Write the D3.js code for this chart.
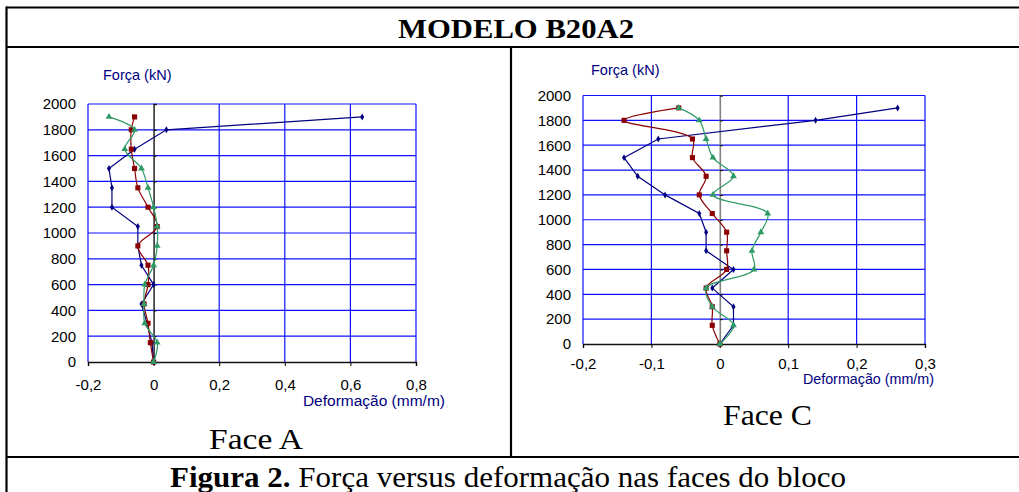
<!DOCTYPE html>
<html>
<head>
<meta charset="utf-8">
<script src="https://cdn.jsdelivr.net/npm/d3@7"></script>
<style>
	body { margin: 0; background: #fff; }
	svg { display: block; }
	.sans { font-family: "Liberation Sans", Arial, sans-serif; }
	.serif { font-family: "Liberation Serif", "Times New Roman", serif; }
</style>
</head>
<body>
<div id="fig"></div>
<script>

// load steps (kN), shared by all series
const forces = [ 0, 150, 300, 450, 600, 750, 900, 1050, 1200, 1350, 1500, 1650, 1800, 1900 ];

// Face A strains (mm/m)
const blueA  = [ 0, -0.005, -0.02, -0.037, 0, -0.037, -0.048, -0.048, -0.127, -0.127, -0.136, -0.058, 0.039, 0.636 ];
const redA   = [ 0, -0.01, -0.017, -0.029, -0.017, -0.017, -0.048, 0.011, -0.017, -0.048, -0.058, -0.068, -0.068, -0.058 ];
const greenA = [ 0, 0.011, -0.027, -0.029, -0.027, 0, 0.011, 0.011, 0, -0.017, -0.037, -0.088, -0.058, -0.136 ];

// Face C strains (mm/m)
const blueC  = [ 0, 0.02, 0.02, -0.011, 0.02, -0.02, -0.02, -0.03, -0.08, -0.12, -0.14, -0.09, 0.14, 0.26 ];
const redC   = [ 0, -0.011, -0.011, -0.02, 0.01, 0.01, 0.01, -0.011, -0.03, -0.02, -0.04, -0.04, -0.14, -0.06 ];
const greenC = [ 0, 0.02, -0.011, -0.02, 0.05, 0.047, 0.06, 0.07, -0.01, 0.02, -0.01, -0.02, -0.03, -0.06 ];

const yTicks  = [ 0, 200, 400, 600, 800, 1000, 1200, 1400, 1600, 1800, 2000 ];
const xTicksA = [ -0.2, 0, 0.2, 0.4, 0.6, 0.8 ];
const xTicksC = [ -0.2, -0.1, 0, 0.1, 0.2, 0.3 ];

///////////////////////////////////////////////////////////////////////

const W = 1019, H = 492;
const NAVY = "#000080", RED = "#8b0000", GREEN = "#2e9a66", GRID = "#1010ff";

const svg = d3.select( "#fig" )
	.append( "svg" )
		.attr( "width", W )
		.attr( "height", H );

// excel style labels: hyphen minus, comma decimal, no grouping
const comma = d => String( +d.toFixed( 3 ) ).replace( ".", "," );

draw_frame();

draw_chart( {
	left: 88, right: 416, top: 104, bottom: 362,
	xDomain: [ -0.2, 0.8 ], xTicks: xTicksA,
	series: [ blueA, redA, greenA ],
	zeroColor: "#333",
	yTitle: { x: 103, y: 80 },
	xTitle: { x: 445, y: 406, size: 15.5 },
	tickBaseline: 28
} );

draw_chart( {
	left: 583, right: 925, top: 95.5, bottom: 344,
	xDomain: [ -0.2, 0.3 ], xTicks: xTicksC,
	series: [ blueC, redC, greenC ],
	zeroColor: "#808080",
	yTitle: { x: 591, y: 75 },
	xTitle: { x: 934, y: 384, size: 14.3 },
	tickBaseline: 25
} );

function draw_frame()	{

	let g = svg.append( "g" )
		.attr( "stroke", "#000" )
		.attr( "stroke-width", 2.2 );

	g.append( "line" ).attr( "x1", 6.5 ).attr( "x2", W + 5 ).attr( "y1", 7.5 ).attr( "y2", 7.5 );
	g.append( "line" ).attr( "x1", 6.5 ).attr( "x2", W + 5 ).attr( "y1", 47 ).attr( "y2", 47 );
	g.append( "line" ).attr( "x1", 6.5 ).attr( "x2", W + 5 ).attr( "y1", 457 ).attr( "y2", 457 );
	g.append( "line" ).attr( "x1", 6.5 ).attr( "x2", 6.5 ).attr( "y1", 6.5 ).attr( "y2", H + 5 );
	g.append( "line" ).attr( "x1", 511 ).attr( "x2", 511 ).attr( "y1", 47 ).attr( "y2", 457 );

	svg.append( "text" )
		.attr( "class", "serif" )
		.attr( "x", 516 ).attr( "y", 38 )
		.attr( "text-anchor", "middle" )
		.attr( "font-weight", "bold" )
		.attr( "font-size", 27.5 )
		.attr( "textLength", 236 )
		.attr( "lengthAdjust", "spacingAndGlyphs" )
		.text( "MODELO B20A2" );

	svg.append( "text" )
		.attr( "class", "serif" )
		.attr( "x", 209 ).attr( "y", 449 )
		.attr( "font-size", 29 )
		.attr( "textLength", 94 )
		.attr( "lengthAdjust", "spacingAndGlyphs" )
		.text( "Face A" );

	svg.append( "text" )
		.attr( "class", "serif" )
		.attr( "x", 723 ).attr( "y", 425 )
		.attr( "font-size", 30 )
		.attr( "textLength", 89 )
		.attr( "lengthAdjust", "spacingAndGlyphs" )
		.text( "Face C" );

	let cap = svg.append( "text" )
		.attr( "class", "serif" )
		.attr( "x", 170 ).attr( "y", 487 )
		.attr( "font-size", 29 )
		.attr( "textLength", 676 )
		.attr( "lengthAdjust", "spacingAndGlyphs" );
	cap.append( "tspan" ).attr( "font-weight", "bold" ).text( "Figura 2." );
	cap.append( "tspan" ).text( " Força versus deformação nas faces do bloco" );
}

function draw_chart( c )	{

	let x = d3.scaleLinear().domain( c.xDomain ).range( [ c.left, c.right ] );
	let y = d3.scaleLinear().domain( [ 0, 2000 ] ).range( [ c.bottom, c.top ] );

	let g = svg.append( "g" );

	// grid + plot border
	g.append( "g" )
		.selectAll( "line" )
		.data( yTicks.filter( d => d > 0 ) )
		.join( "line" )
			.attr( "x1", c.left ).attr( "x2", c.right )
			.attr( "y1", d => y( d ) ).attr( "y2", d => y( d ) )
			.attr( "stroke", GRID ).attr( "stroke-width", 1.2 );

	g.append( "g" )
		.selectAll( "line" )
		.data( c.xTicks.filter( d => d !== 0 ) )
		.join( "line" )
			.attr( "x1", d => x( d ) ).attr( "x2", d => x( d ) )
			.attr( "y1", c.top ).attr( "y2", c.bottom )
			.attr( "stroke", GRID ).attr( "stroke-width", 1.2 );

	// y tick labels on the left
	g.append( "g" )
		.attr( "transform", `translate(${ c.left },0)` )
		.call( d3.axisLeft( y ).tickValues( yTicks ).tickSize( 0 ).tickPadding( 12 ).tickFormat( comma ) )
		.call( a => a.select( ".domain" ).remove() )
		.call( a => a.attr( "font-family", null ).attr( "font-size", null ) )
		.call( a => a.selectAll( "text" )
			.attr( "class", "sans" )
			.attr( "font-size", 15 )
			.attr( "fill", "#000" ) );

	// vertical axis crossing at zero
	let z = g.append( "g" ).attr( "transform", `translate(${ x( 0 ) },0)` );
	z.call( d3.axisLeft( y ).tickValues( yTicks ).tickSize( 3 ).tickFormat( "" ) );
	z.call( d3.axisRight( y ).tickValues( yTicks ).tickSize( 3 ).tickFormat( "" ) );
	z.selectAll( ".domain" ).attr( "stroke", c.zeroColor ).attr( "stroke-width", 1.6 );
	z.selectAll( ".tick line" ).attr( "stroke", "#000" );

	// bottom axis
	g.append( "g" )
		.attr( "transform", `translate(0,${ c.bottom })` )
		.call( d3.axisBottom( x ).tickValues( c.xTicks ).tickSize( 4 ).tickFormat( comma ).tickSizeOuter( 4 ) )
		.call( a => a.attr( "font-family", null ).attr( "font-size", null ) )
		.call( a => a.select( ".domain" ).attr( "stroke", "#111" ).attr( "stroke-width", 1.4 ) )
		.call( a => a.selectAll( "text" )
			.attr( "class", "sans" )
			.attr( "font-size", 15 )
			.attr( "fill", "#000" )
			.attr( "dy", null )
			.attr( "y", c.tickBaseline ) );

	// axis titles
	g.append( "text" )
		.attr( "class", "sans" )
		.attr( "x", c.yTitle.x ).attr( "y", c.yTitle.y )
		.attr( "font-size", 14.5 )
		.attr( "fill", NAVY )
		.text( "Força (kN)" );

	g.append( "text" )
		.attr( "class", "sans" )
		.attr( "x", c.xTitle.x ).attr( "y", c.xTitle.y )
		.attr( "text-anchor", "end" )
		.attr( "font-size", c.xTitle.size )
		.attr( "fill", NAVY )
		.text( "Deformação (mm/m)" );

	// series
	let styles = [
		{ color: NAVY,  curve: d3.curveLinear,     symbol: d3.symbolDiamond,  size: 14, width: 1.2 },
		{ color: RED,   curve: d3.curveCatmullRom, symbol: d3.symbolSquare,   size: 26, width: 1.2 },
		{ color: GREEN, curve: d3.curveCatmullRom, symbol: d3.symbolTriangle, size: 20, width: 1.2 }
	];

	c.series.forEach( ( vals, i ) => {

		let s = styles[ i ];
		let pts = vals.map( ( v, k ) => [ v, forces[ k ] ] );

		g.append( "path" )
			.datum( pts )
			.attr( "fill", "none" )
			.attr( "stroke", s.color )
			.attr( "stroke-width", s.width )
			.attr( "d", d3.line().x( d => x( d[ 0 ] ) ).y( d => y( d[ 1 ] ) ).curve( s.curve ) );

		g.append( "g" )
			.selectAll( "path" )
			.data( pts )
			.join( "path" )
				.attr( "transform", d => `translate(${ x( d[ 0 ] ) },${ y( d[ 1 ] ) })` )
				.attr( "d", d3.symbol( s.symbol, s.size ) )
				.attr( "fill", s.color );
	} );
}

</script>
</body>
</html>
